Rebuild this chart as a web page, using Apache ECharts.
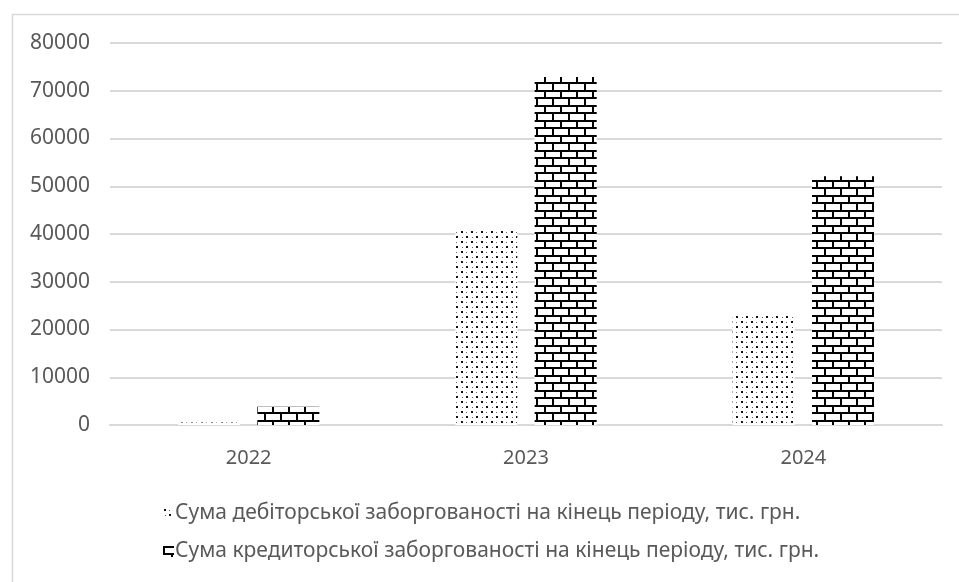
<!DOCTYPE html>
<html><head><meta charset="utf-8">
<script src="https://cdn.jsdelivr.net/npm/echarts@6/dist/echarts.min.js"></script>
<style>html,body{margin:0;padding:0;background:#fff}#c{width:959px;height:582px}</style>
</head><body><div id="c"></div>
<script>
const categories = ['2022', '2023', '2024'];
const debitValues = [500, 40800, 23200];
const creditValues = [3800, 72900, 52100];
const seriesNames = [
  'Сума дебіторської заборгованості на кінець періоду, тис. грн.',
  'Сума кредиторської заборгованості на кінець періоду, тис. грн.'
];

function dotPattern() {
  const c = document.createElement('canvas'); c.width = 10; c.height = 10;
  const g = c.getContext('2d');
  g.fillStyle = '#fff'; g.fillRect(0, 0, 10, 10);
  g.fillStyle = '#111';
  g.fillRect(1, 1, 2, 2); g.fillRect(6, 6, 2, 2);
  g.fillStyle = '#666';
  g.fillRect(6, 2, 1, 1); g.fillRect(2, 7, 1, 1);
  return c;
}
function brickPattern() {
  const c = document.createElement('canvas'); c.width = 16; c.height = 15;
  const g = c.getContext('2d');
  g.fillStyle = '#fff'; g.fillRect(0, 0, 16, 15);
  g.fillStyle = '#000';
  g.fillRect(0, 0, 16, 2);
  g.fillRect(0, 7, 16, 2);
  g.fillRect(0, 2, 2, 5);
  g.fillRect(8, 9, 2, 6);
  return c;
}
const dotFill = { image: dotPattern(), repeat: 'repeat' };
const brickFill = { image: brickPattern(), repeat: 'repeat' };

const chart = echarts.init(document.getElementById('c'), null, { renderer: 'canvas' });
const font = 'Noto Sans, Liberation Sans, sans-serif';
chart.setOption({
  animation: false,
  backgroundColor: '#fff',
  graphic: [{
    type: 'rect', left: 10, top: 12,
    shape: { width: 960, height: 580 },
    style: { fill: 'none', stroke: '#d9d9d9', lineWidth: 1.5 }, silent: true, z: -1
  }],
  grid: { left: 110, right: 17, top: 43, bottom: 157, containLabel: false },
  legend: {
    orient: 'vertical', left: 158, top: 498, itemGap: 17,
    itemWidth: 11, itemHeight: 11, icon: 'rect',
    textStyle: { color: '#595959', fontSize: 21, fontFamily: font, padding: [0, 0, 0, -4] },
    data: seriesNames
  },
  xAxis: {
    type: 'category', data: categories,
    axisLine: { lineStyle: { color: '#d9d9d9', width: 2 } },
    axisTick: { show: false },
    axisLabel: { color: '#595959', fontSize: 20, fontFamily: font, margin: 23 }
  },
  yAxis: {
    type: 'value', min: 0, max: 80000, interval: 10000,
    axisLine: { show: false }, axisTick: { show: false },
    splitLine: { lineStyle: { color: '#d9d9d9', width: 2 } },
    axisLabel: { color: '#595959', fontSize: 21, fontFamily: font, margin: 20,
      formatter: v => String(v) }
  },
  series: [
    { name: seriesNames[0], type: 'bar', data: debitValues, barWidth: 62, barGap: '28%',
      itemStyle: { color: dotFill } },
    { name: seriesNames[1], type: 'bar', data: creditValues, barWidth: 62,
      itemStyle: { color: brickFill } }
  ]
});
</script></body></html>
